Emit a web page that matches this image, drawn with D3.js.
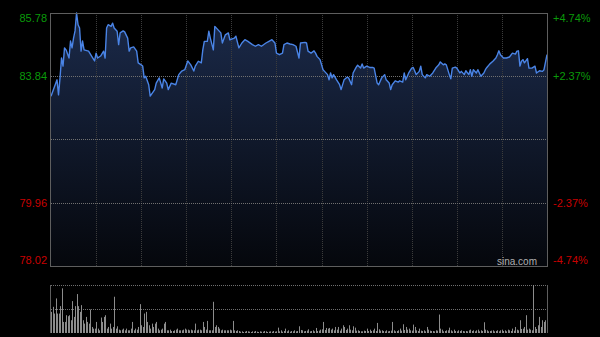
<!DOCTYPE html>
<html>
<head>
<meta charset="utf-8">
<script src="https://cdn.jsdelivr.net/npm/d3@7"></script>
<style>
  html, body { margin: 0; padding: 0; background: #000; }
  svg { display: block; }
  text { font-family: Arial, "Liberation Sans", sans-serif; }
</style>
</head>
<body>
<svg width="600" height="337"></svg>
<script>
// HK session, minute index 0..330 (09:30-12:00, 13:00-16:00)
var prevClose = 81.90;
var priceTicks = [85.78, 83.84, 81.90, 79.96, 78.02];
var pctTicks = ["+4.74%", "+2.37%", "0.00%", "-2.37%", "-4.74%"];

// [minute, price]
var pricePoints = [
  [0,83.23],[2,83.48],[4,83.73],[5,83.27],[6,83.79],[7,84.40],[8,84.15],[9,84.71],[10,84.65],[12,84.40],
  [13,84.92],[14,84.71],[15,85.01],[16,85.23],[17,85.78],[18,85.42],[19,85.32],[20,84.61],[21,84.92],[22,84.65],
  [25,84.61],[27,84.46],[29,84.31],[30,84.55],[31,84.40],[33,84.46],[35,84.61],[36,84.40],[37,85.32],[38,85.42],
  [40,85.37],[41,85.47],[42,85.32],[44,85.22],[45,84.81],[46,85.17],[48,85.23],[49,85.20],[51,85.01],[52,84.61],
  [53,84.71],[55,84.74],[57,84.61],[58,84.25],[60,84.19],[61,84.15],[62,83.79],[63,83.84],[65,83.58],[66,83.23],
  [69,83.43],[70,83.63],[72,83.79],[74,83.48],[75,83.76],[77,83.63],[78,83.43],[80,83.63],[83,83.58],[85,83.89],
  [87,84.00],[89,84.04],[91,84.31],[93,84.19],[95,84.00],[96,84.15],[98,84.30],[100,84.25],[101,84.65],[102,84.91],
  [104,84.91],[105,85.22],[106,85.01],[108,84.65],[109,85.37],[111,85.27],[113,85.17],[114,84.86],[116,85.11],[118,85.17],
  [119,84.96],[122,85.01],[123,85.07],[125,84.71],[127,84.86],[129,84.96],[131,84.91],[134,84.81],[136,84.76],[138,84.81],
  [140,84.76],[143,84.86],[145,84.91],[147,84.96],[149,84.86],[150,84.55],[152,84.50],[154,84.55],[155,84.81],[157,84.86],
  [159,84.83],[161,84.81],[163,84.76],[165,84.40],[166,84.86],[169,84.88],[170,84.86],[171,84.61],[173,84.55],[175,84.62],
  [176,84.55],[177,84.45],[179,84.35],[181,84.04],[182,83.99],[184,83.89],[185,83.73],[186,83.94],[187,83.79],[188,83.89],
  [190,83.73],[192,83.58],[193,83.43],[195,83.73],[197,83.81],[198,83.79],[200,83.58],[201,83.94],[203,84.11],[204,84.18],
  [206,84.09],[207,84.22],[208,84.09],[210,84.15],[212,84.11],[214,84.11],[215,84.09],[217,83.63],[218,83.58],[220,83.79],
  [222,83.89],[223,83.73],[225,83.63],[226,83.43],[227,83.58],[229,83.70],[231,83.66],[232,83.70],[234,83.66],[235,83.94],
  [236,83.73],[238,83.94],[240,84.09],[241,84.11],[243,83.89],[245,83.99],[246,84.15],[247,83.89],[249,83.79],[250,83.89],
  [252,83.84],[254,83.94],[256,84.09],[258,84.19],[259,84.28],[261,84.19],[262,84.22],[263,84.19],[265,83.89],[266,83.76],
  [267,84.09],[269,84.12],[270,84.09],[272,83.94],[273,83.99],[275,83.89],[276,84.01],[278,83.89],[279,84.04],[280,83.84],
  [281,84.04],[283,83.94],[284,84.04],[286,83.84],[288,83.94],[289,84.04],[290,84.11],[292,84.22],[294,84.30],[296,84.40],
  [297,84.50],[298,84.62],[299,84.50],[301,84.40],[303,84.40],[305,84.43],[307,84.55],[309,84.52],[310,84.61],[311,84.62],
  [312,84.15],[313,84.30],[314,84.35],[315,84.25],[317,84.38],[318,84.09],[320,84.09],[322,84.15],[323,83.94],[325,84.01],
  [327,83.99],[328,84.04],[330,84.50]
];

// volume per minute (relative units)
var volumes = [
  63,78,58,103,58,58,80,133,33,33, 53,50,53,38,95,48,80,116,80,63,
  83,38,28,48,33,28,70,18,13,13, 33,13,8,46,33,48,53,13,18,28,
  13,18,108,13,20,10,8,10,13,8, 13,8,8,13,33,8,13,10,18,86,
  23,18,58,63,33,23,13,28,18,28, 33,13,8,10,13,28,33,8,8,10,
  6,6,8,10,13,8,8,8,10,13, 10,10,8,10,8,8,28,8,10,10,
  8,33,18,10,36,8,8,8,93,18, 23,18,13,8,10,8,8,8,8,10,
  8,36,8,6,8,6,4,5,3,4, 6,5,4,3,5,4,6,4,3,5,
  4,4,6,5,3,4,5,4,6,4, 5,16,5,8,4,6,13,5,8,4,
  6,5,8,5,6,20,9,8,5,6, 7,11,5,6,8,5,15,6,7,10,
  11,33,9,15,13,15,10,13,8,18, 10,18,7,13,23,18,9,13,23,10,
  8,20,16,7,8,6,5,5,7,6, 13,6,10,6,8,13,6,30,11,7,
  8,6,5,8,5,6,7,33,8,5, 6,8,13,7,26,9,18,10,13,8,
  7,25,18,8,6,13,7,6,8,5, 18,10,7,6,6,5,8,7,55,13,
  10,5,6,8,8,16,8,5,10,6, 5,8,6,8,6,5,6,5,8,10,
  6,8,5,8,10,5,8,6,32,10, 8,5,6,7,8,5,6,8,5,8,
  10,6,8,5,10,8,6,13,7,18, 10,8,38,12,13,18,53,10,13,10,
  8,143,18,12,23,48,18,38,33,38, 48
];

var svg = d3.select("svg");

var plotLeft = 51, plotRight = 547,
    plotTop = 13, plotBottom = 266,
    volTop = 285, volBottom = 333;

var x = d3.scaleLinear().domain([0, 330]).range([plotLeft, plotRight]);
var y = d3.scaleLinear().domain([78.02, 85.78]).range([plotBottom, plotTop]);
var yv = d3.scaleLinear().domain([0, d3.max(volumes)]).range([volBottom, volTop]);

var defs = svg.append("defs");
var grad = defs.append("linearGradient")
    .attr("id", "fillGrad")
    .attr("gradientUnits", "userSpaceOnUse")
    .attr("x1", 0).attr("y1", plotTop).attr("x2", 0).attr("y2", plotBottom);
grad.append("stop").attr("offset", "0%").attr("stop-color", "#1b2a4a");
grad.append("stop").attr("offset", "100%").attr("stop-color", "#05070c");

// area + line
var area = d3.area()
    .x(function (d) { return x(d[0]); })
    .y0(plotBottom)
    .y1(function (d) { return y(d[1]); });

var line = d3.line()
    .x(function (d) { return x(d[0]); })
    .y(function (d) { return y(d[1]); });

svg.append("path")
    .datum(pricePoints)
    .attr("d", area)
    .attr("fill", "url(#fillGrad)");

// grid
var grid = svg.append("g");
var vLines = d3.range(30, 330, 30);
grid.selectAll(".vg").data(vLines).enter().append("line")
    .attr("x1", function (d) { return Math.round(x(d)) + 0.5; })
    .attr("x2", function (d) { return Math.round(x(d)) + 0.5; })
    .attr("y1", plotTop).attr("y2", plotBottom)
    .attr("stroke", "#3c3c3c").attr("stroke-dasharray", "1,1");

grid.selectAll(".hg").data(priceTicks.slice(1, 4)).enter().append("line")
    .attr("x1", plotLeft).attr("x2", plotRight)
    .attr("y1", function (d) { return Math.round(y(d)) + 0.5; })
    .attr("y2", function (d) { return Math.round(y(d)) + 0.5; })
    .attr("stroke", "#707070")
    .attr("stroke-dasharray", "1,1");

svg.append("path")
    .datum(pricePoints)
    .attr("d", line)
    .attr("fill", "none")
    .attr("stroke", "#4a84e6")
    .attr("stroke-width", 1.4)
    .attr("stroke-linejoin", "round");

// frame
svg.append("rect")
    .attr("x", plotLeft - 0.5).attr("y", plotTop + 0.5)
    .attr("width", plotRight - plotLeft + 1).attr("height", plotBottom - plotTop)
    .attr("fill", "none").attr("stroke", "#5e5e5e");

// axis labels
var labels = svg.append("g").attr("font-size", 11);
priceTicks.forEach(function (p, i) {
    if (i === 2) return;
    var ty = y(p);
    if (i === 0) ty += 5.5;
    if (i === 4) ty -= 6;
    var col = p > prevClose ? "#0a9a0a" : "#c80000";
    labels.append("text")
        .attr("x", 47).attr("y", ty).attr("dy", "0.36em")
        .attr("text-anchor", "end").attr("fill", col).text(p.toFixed(2));
    labels.append("text")
        .attr("x", 553).attr("y", ty).attr("dy", "0.36em")
        .attr("fill", col).text(pctTicks[i]);
});

svg.append("text")
    .attr("x", 537).attr("y", 265)
    .attr("text-anchor", "end")
    .attr("font-size", 10)
    .attr("fill", "#b0b0b0")
    .text("sina.com");

// volume panel
var vg = svg.append("g");
vg.selectAll(".vh").data([volTop, (volTop + volBottom) / 2 - 0.5]).enter().append("line")
    .attr("x1", plotLeft).attr("x2", plotRight)
    .attr("y1", function (d) { return Math.round(d) + 0.5; })
    .attr("y2", function (d) { return Math.round(d) + 0.5; })
    .attr("stroke", "#707070").attr("stroke-dasharray", "1,1");

vg.selectAll(".vb").data(volumes).enter().append("line")
    .attr("x1", function (d, i) { return Math.round(x(i)) + 0.5; })
    .attr("x2", function (d, i) { return Math.round(x(i)) + 0.5; })
    .attr("y1", volBottom)
    .attr("y2", function (d) { return yv(d); })
    .attr("stroke", "#8c8c8c");

vg.append("line").attr("x1", plotLeft - 0.5).attr("x2", plotLeft - 0.5)
    .attr("y1", volTop).attr("y2", volBottom).attr("stroke", "#5e5e5e");
vg.append("line").attr("x1", plotRight + 0.5).attr("x2", plotRight + 0.5)
    .attr("y1", volTop).attr("y2", volBottom).attr("stroke", "#5e5e5e");
</script>
</body>
</html>
